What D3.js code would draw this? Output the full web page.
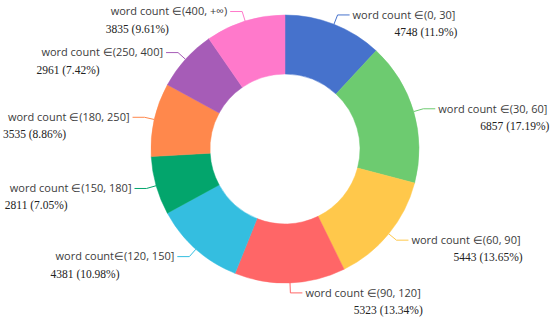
<!DOCTYPE html>
<html>
<head>
<meta charset="utf-8">
<script src="https://cdn.jsdelivr.net/npm/d3@7"></script>
<style>
  body { margin: 0; background: #fff; }
  svg { display: block; }
  .lbl1 { font-family: "Open Sans", "Noto Sans", sans-serif; font-size: 11px; fill: #3c3c3c; }
  .lbl2 { font-family: "Liberation Serif", serif; font-size: 11.5px; fill: #222; }
</style>
</head>
<body>
<svg id="chart" width="550" height="322"></svg>
<script>
// word count buckets, clockwise from 12 o'clock
var ranges = ['(0, 30]', '(30, 60]', '(60, 90]', '(90, 120]', '(120, 150]',
              '(150, 180]', '(180, 250]', '(250, 400]', '(400, +\u221e)'];
var counts = [4748, 6857, 5443, 5323, 4381, 2811, 3535, 2961, 3835];
var percents = ['11.9%', '17.19%', '13.65%', '13.34%', '10.98%',
                '7.05%', '8.86%', '7.42%', '9.61%'];
var colors = ['#4672CC', '#6DCB70', '#FFC84B', '#FF6667', '#34BEE0',
              '#03A56C', '#FF884C', '#A65CB7', '#FF79CB'];

var chart = {
    cx: 285,
    cy: 149,
    outer: 134,
    inner: 75,
    len1: 10,
    len2: 12
}

var svg = d3.select('#chart');
var g = svg.append('g')
    .attr('transform', 'translate(' + chart.cx + ',' + chart.cy + ')');

var pie = d3.pie().sort(null).value(function(d) { return d; });
var arcs = pie(counts);

var arc = d3.arc()
    .innerRadius(chart.inner)
    .outerRadius(chart.outer);

g.selectAll('path.slice')
    .data(arcs)
    .enter().append('path')
    .attr('class', 'slice')
    .attr('d', arc)
    .attr('fill', function(d, i) { return colors[i]; })
    .attr('stroke', function(d, i) { return colors[i]; })
    .attr('stroke-width', 0.5);

// leader lines + two line labels
arcs.forEach(function(d, i) {
    var a = (d.startAngle + d.endAngle) / 2;
    var sx = Math.sin(a), sy = -Math.cos(a);
    var right = sx >= 0;
    var p0 = [chart.outer * sx, chart.outer * sy];
    var p1 = [(chart.outer + chart.len1) * sx, (chart.outer + chart.len1) * sy];
    var p2 = [p1[0] + (right ? chart.len2 : -chart.len2), p1[1]];

    g.append('polyline')
        .attr('points', [p0, p1, p2].map(function(p) { return p.join(','); }).join(' '))
        .attr('fill', 'none')
        .attr('stroke', colors[i])
        .attr('stroke-width', 1);

    var sep = i === 4 ? '' : ' ';
    var line1 = g.append('text')
        .attr('class', 'lbl1')
        .attr('x', p2[0] + (right ? 3 : -3))
        .attr('y', p2[1])
        .attr('dy', '0.35em')
        .attr('text-anchor', right ? 'start' : 'end')
        .text('word count' + sep + '\u2208' + ranges[i]);

    var w1 = line1.node().getComputedTextLength();
    var x2 = right ? p2[0] + 3 + w1 + 2 : p2[0] - 3 - w1 - 5;

    g.append('text')
        .attr('class', 'lbl2')
        .attr('x', x2)
        .attr('y', p2[1] + 17)
        .attr('dy', '0.35em')
        .attr('text-anchor', right ? 'end' : 'start')
        .text(counts[i] + ' (' + percents[i] + ')');
});
</script>
</body>
</html>
